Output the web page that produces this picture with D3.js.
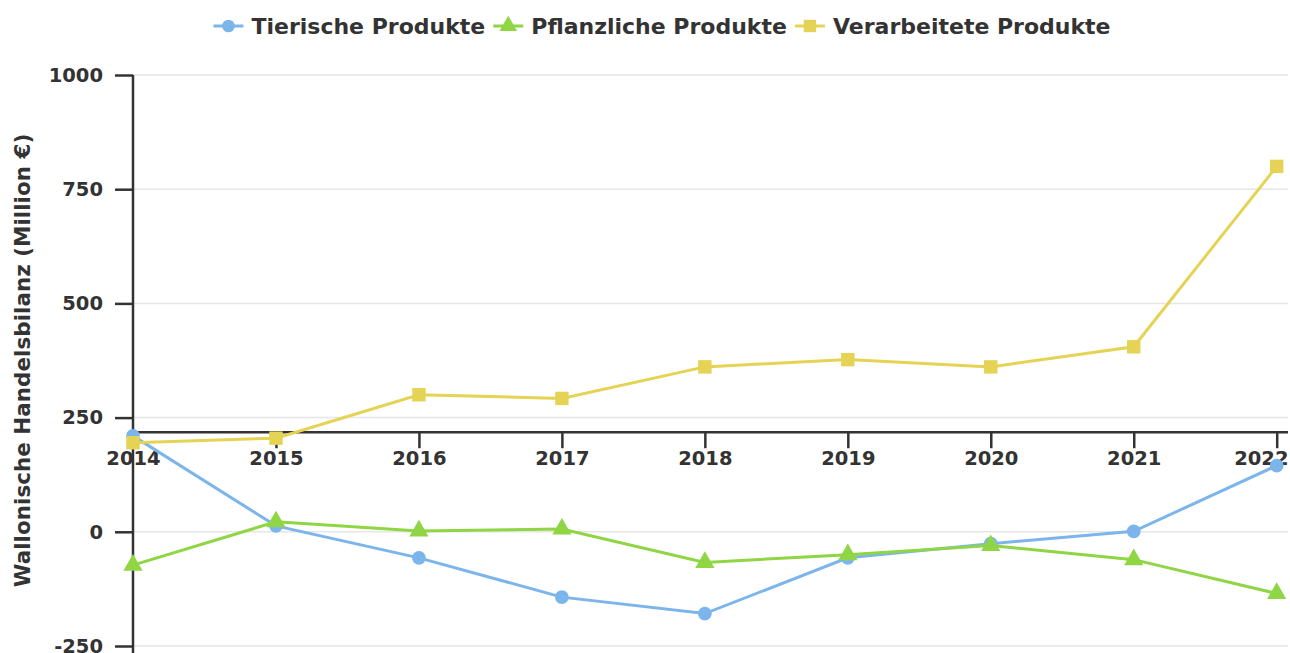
<!DOCTYPE html>
<html><head><meta charset="utf-8">
<script src="https://cdn.jsdelivr.net/npm/d3@7"></script>
<style>body{margin:0;background:#fff}svg{display:block}</style>
</head><body>
<svg id="c" width="1290" height="653"></svg>
<script>
const years = ["2014","2015","2016","2017","2018","2019","2020","2021","2022"];
const tierische = [210, 13, -57, -143, -179, -57, -26, 1, 145];
const pflanzliche = [-73, 22, 2, 6, -67, -50, -30, -61, -135];
const verarbeitete = [195, 205, 300, 292, 361, 377, 361, 405, 800];
const yTicks = [-250, 0, 250, 500, 750, 1000];
const seriesNames = ["Tierische Produkte", "Pflanzliche Produkte", "Verarbeitete Produkte"];
const xAxisCross = 218;

const colors = ["#7cb5ec", "#8fd544", "#e4d354"];
const symbols = [d3.symbolCircle, d3.symbolTriangle, d3.symbolSquare];
const symSizes = [150, 160, 180];
const series = [tierische, pflanzliche, verarbeitete];

const svg = d3.select("#c");
const font = "'DejaVu Sans', Verdana, sans-serif";
const L = 133, R = 1276.7, T = 75, B = 646;
const x = d3.scalePoint().domain(years).range([L, R]);
const y = d3.scaleLinear().domain([-250, 1000]).range([B, T]);

// gridlines
svg.append("g").selectAll("line").data(yTicks).join("line")
  .attr("x1", L).attr("x2", 1288).attr("y1", d => y(d)).attr("y2", d => y(d))
  .attr("stroke", "#e6e6e6").attr("stroke-width", 1.5);

// y axis
const ya = svg.append("g").attr("transform", `translate(${L},0)`)
  .call(d3.axisLeft(y).tickValues(yTicks).tickSize(18).tickPadding(12).tickFormat(d => String(d)));
ya.select(".domain").attr("stroke", "#333").attr("stroke-width", 2.5).attr("d", `M-0,${T}V653`);
ya.selectAll(".tick line").attr("stroke", "#333").attr("stroke-width", 2.5);
ya.selectAll("text").attr("font-family", font).attr("font-weight", "bold").attr("font-size", 19.5).attr("fill", "#333");

// y title
svg.append("text").attr("transform", `translate(30,${(T+B)/2}) rotate(-90)`)
  .attr("text-anchor", "middle").attr("font-family", font).attr("font-weight", "bold")
  .attr("font-size", 21.5).attr("fill", "#333").text("Wallonische Handelsbilanz (Million €)");

// x axis
const xa = svg.append("g").attr("transform", `translate(0,${y(xAxisCross)})`)
  .call(d3.axisBottom(x).tickSize(16).tickPadding(3));
xa.select(".domain").attr("stroke", "#333").attr("stroke-width", 2.5).attr("d", `M${L},0H1288`);
xa.selectAll(".tick line").attr("stroke", "#333").attr("stroke-width", 2.5);
xa.selectAll("text").attr("font-family", font).attr("font-weight", "bold").attr("font-size", 19.5).attr("fill", "#333");
xa.selectAll(".tick text").each(function (d) {
  const w = this.getComputedTextLength();
  const right = x(d) + w / 2;
  if (right > 1288) d3.select(this).attr("dx", 1288 - right);
});

// lines + markers
const line = d3.line().x((d, i) => x(years[i])).y(d => y(d));
series.forEach((s, k) => {
  svg.append("path").datum(s).attr("d", line).attr("fill", "none")
    .attr("stroke", colors[k]).attr("stroke-width", 3);
});
series.forEach((s, k) => {
  svg.append("g").selectAll("path").data(s).join("path")
    .attr("transform", (d, i) => `translate(${x(years[i])},${y(d)})`)
    .attr("d", d3.symbol().type(symbols[k]).size(symSizes[k]))
    .attr("fill", colors[k]);
});

// legend
const lg = svg.append("g");
let cx = 0;
seriesNames.forEach((n, k) => {
  const g = lg.append("g").attr("transform", `translate(${cx},0)`);
  g.append("line").attr("x1", 0).attr("x2", 30).attr("y1", 0).attr("y2", 0)
    .attr("stroke", colors[k]).attr("stroke-width", 3);
  g.append("path").attr("transform", "translate(15,0)")
    .attr("d", d3.symbol().type(symbols[k]).size(symSizes[k] * 0.85)).attr("fill", colors[k]);
  const t = g.append("text").attr("x", 38).attr("y", 7.5).attr("font-family", font)
    .attr("font-weight", "bold").attr("font-size", 22).attr("fill", "#333").text(n);
  cx += 38 + t.node().getComputedTextLength() + 8;
});
const lw = cx - 8;
lg.attr("transform", `translate(${662 - lw / 2},26)`);
</script>
</body></html>
